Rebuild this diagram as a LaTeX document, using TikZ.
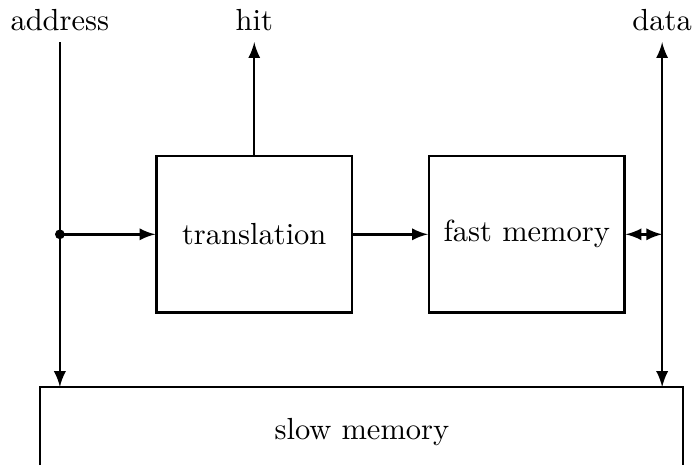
\documentclass[tikz,border=0pt]{standalone}
\usepackage{tikz}
\usetikzlibrary{arrows, positioning, calc}

\tikzset{
  block/.style={draw, minimum width=2.25cm, minimum height=1.8cm}
}

\begin{document}
\begin{tikzpicture}[thick, >=latex]
  \useasboundingbox (0,0) rectangle (8.02,5.36);

  % Signal names along the top
  \node (addr) at (0.69,5.13) {address};
  \node (hit) at (2.93,5.13) {hit};
  \node (data) at (7.63,5.13) {data};

  % Blocks
  \node[block] (trans) at (2.93,2.66) {translation};
  \node[block] (fast) at (6.07,2.66) {fast memory};

  % Slow memory, open at the bottom
  \coordinate (slowNW) at (0.46,0.90);
  \coordinate (slowNE) at (7.87,0.90);
  \draw (0.46,0) -- (slowNW) -- (slowNE) -- (7.87,0);
  \node (slow) at (4.17,0.38) {slow memory};

  % Address bus
  \coordinate (split) at (addr.south |- trans.west);
  \draw[->] (addr.south) -- (addr.south |- slowNW);
  \fill (split) circle (1.6pt);
  \draw[->] (split) -- (trans.west);

  % Hit line
  \draw[->] (trans.north) -- (hit.south);

  % Translation to fast memory
  \draw[->] (trans.east) -- (fast.west);

  % Data bus
  \draw[<->] (data.south) -- (data.south |- slowNE);
  \draw[<->] (fast.east) -- (fast.east -| data.south);
\end{tikzpicture}
\end{document}
